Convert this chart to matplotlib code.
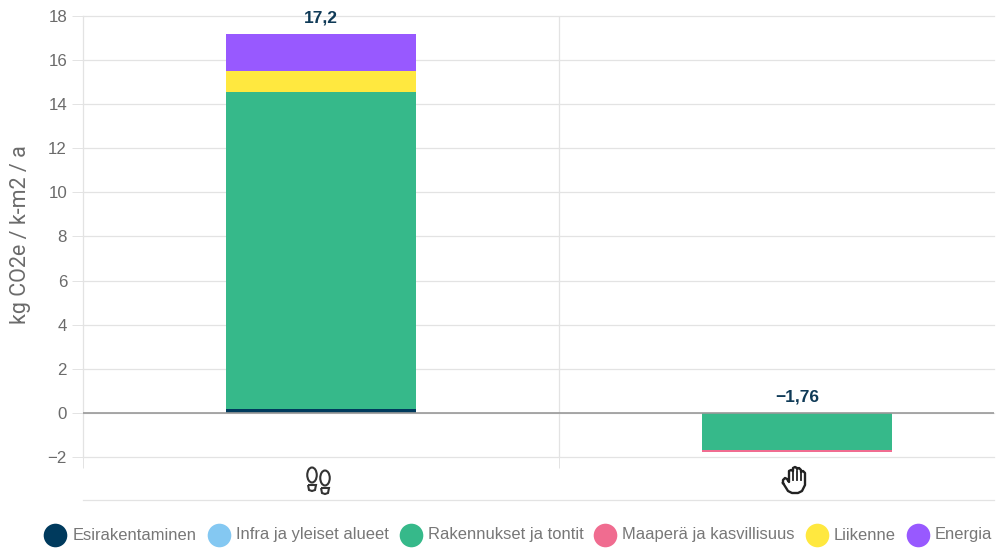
import matplotlib
matplotlib.use('Agg')
import matplotlib.pyplot as plt
from matplotlib.lines import Line2D
from matplotlib.patches import Ellipse, PathPatch
from matplotlib.path import Path

W, H = 1008, 549

categories = ['Jalanjälki', 'Kädenjälki']
series_names = ['Esirakentaminen', 'Infra ja yleiset alueet', 'Rakennukset ja tontit',
                'Maaperä ja kasvillisuus', 'Liikenne', 'Energia']
colors = ['#003a5d', '#84c8f2', '#36b98a', '#f06c90', '#ffe83f', '#9859ff']
footprint = [0.17, 0.0, 14.39, 0.0, 0.95, 1.69]
handprint = [0.0, 0.0, -1.68, -0.08, 0.0, 0.0]
totals = ['17,2', '\u22121,76']
total_values = [17.2, -1.76]
y_ticks = list(range(-2, 20, 2))

GRID = '#e3e3e3'
TEXT = '#6b6b6b'
DARK = '#0f3a57'


def px(x, y):
    return x / W, 1 - y / H


def hline(fig, x0, x1, y, color=GRID, lw=1.0):
    fig.add_artist(Line2D([x0 / W, x1 / W], [1 - y / H, 1 - y / H], color=color, lw=lw))


def main():
    fig = plt.figure(figsize=(W / 100, H / 100), dpi=100)
    plt.rcParams['font.family'] = ['Liberation Sans', 'DejaVu Sans']

    # plot area in pixels: x 83-994, y 16-457
    ax = fig.add_axes([83 / W, 1 - 457 / H, (994 - 83) / W, (457 - 16) / H])
    ax.set_xlim(-0.5, -0.5 + (994 - 83) / 476)
    ax.set_ylim(-2, 18)

    for val in y_ticks:
        ax.axhline(val, color=GRID, lw=0.9, zorder=0, clip_on=False)
    ax.axvline(0.5, color=GRID, lw=0.9, zorder=0)

    # stacked bars
    for pos, values in enumerate([footprint, handprint]):
        up, down = 0, 0
        for val, col in zip(values, colors):
            if val == 0:
                continue
            base = up if val > 0 else down
            ax.bar(pos, val, 0.4, bottom=base, color=col, zorder=2)
            if val > 0:
                up += val
            else:
                down += val

    ax.axhline(0, color='#999999', lw=1.2, zorder=3)

    ax.annotate(totals[0], (0, total_values[0]), xytext=(0, 6), textcoords='offset points',
                ha='center', va='bottom', fontsize=12.5, fontweight='bold', color=DARK)
    ax.annotate(totals[1], (1, 0), xytext=(0, 6), textcoords='offset points',
                ha='center', va='bottom', fontsize=12.5, fontweight='bold', color=DARK)

    for side in ax.spines.values():
        side.set_visible(False)
    ax.spines['left'].set_visible(True)
    ax.spines['left'].set_color(GRID)
    ax.spines['left'].set_linewidth(0.9)
    ax.spines['left'].set_bounds(-2, 18)

    ax.set_yticks(y_ticks)
    ax.set_yticklabels([str(v).replace('-', '\u2212') for v in y_ticks])
    ax.tick_params(axis='y', length=8, width=0.7, color=GRID, labelsize=12.2,
                   labelcolor=TEXT, pad=3.5)
    ax.set_xticks([-0.5, 0.5])
    ax.set_xticklabels([])
    ax.tick_params(axis='x', length=8, width=0.7, color=GRID)

    fig.text(21 / W, 1 - 235 / H, 'kg CO2e / k-m2 / a', rotation=90, ha='center', va='center',
             fontsize=15.5, color=TEXT, family='Roboto')

    # line under the icons
    hline(fig, 83, 994, 500, lw=0.9)

    # footprints icon
    icon = dict(fc='none', ec='#333333', lw=1.5, transform=fig.transFigure)
    for cx, cy in [(312, 475), (325, 478)]:
        x, y = px(cx, cy)
        fig.add_artist(Ellipse((x, y), 9.5 / W, 15 / H, **icon))
        heel = Path([px(cx - 4, cy + 10), px(cx + 4, cy + 10), px(cx + 3, cy + 15),
                     px(cx, cy + 16), px(cx - 3, cy + 15), px(cx - 4, cy + 10)])
        fig.add_artist(PathPatch(heel, **icon))

    # hand icon
    hand = [(783, 483), (783, 480), (785, 478), (787, 479), (789, 482), (789, 471), (791, 470),
            (793, 471), (793, 468), (795, 467), (797, 468), (797, 469), (799, 468), (801, 470),
            (801, 472), (803, 471), (805, 473), (805, 485), (802, 491), (798, 493), (792, 493),
            (788, 491), (783, 483)]
    fig.add_artist(Line2D(*zip(*[px(a, b) for a, b in hand]), color='#222222', lw=1.7,
                          solid_joinstyle='round'))
    for fx in (793, 797, 801):
        fig.add_artist(Line2D(*zip(*[px(fx, 471), px(fx, 480)]), color='#222222', lw=1.3))

    # legend
    marker_x = [55, 219, 411, 605, 817, 918]
    label_x = [73, 236, 428, 622, 834, 935]
    for mx, lx, name, col in zip(marker_x, label_x, series_names, colors):
        a, b = px(mx, 535)
        fig.add_artist(Line2D([a], [b], marker='o', ms=17, color=col, mew=0))
        a, b = px(lx, 535)
        fig.text(a, b, name, ha='left', va='center', fontsize=11.9, color='#777777')

    fig.savefig('out.png', dpi=100)


if __name__ == '__main__':
    main()
